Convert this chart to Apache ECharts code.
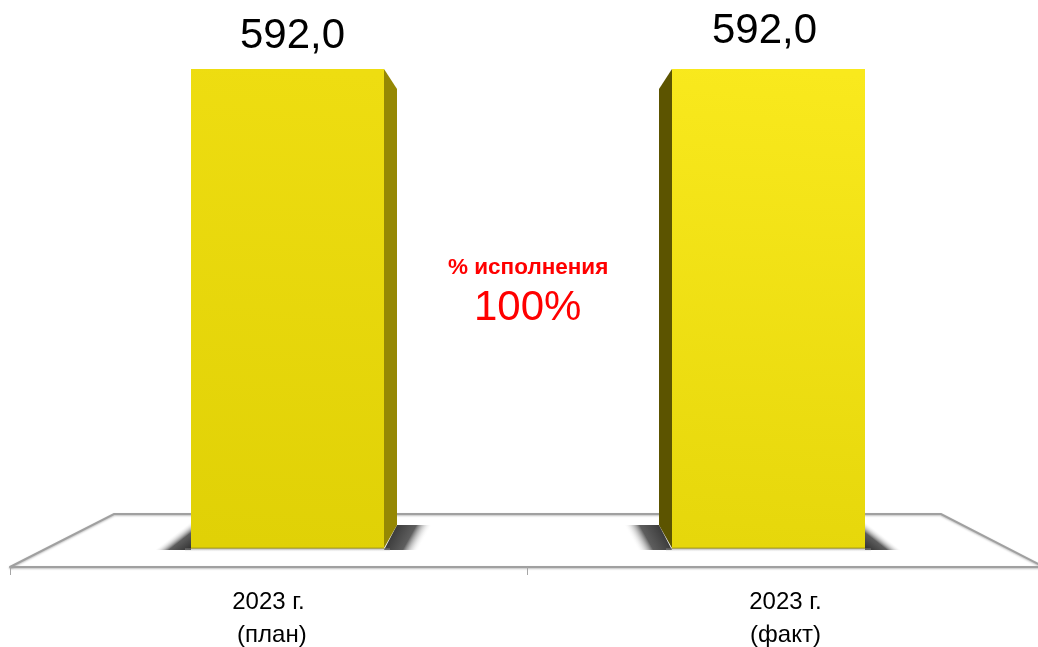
<!DOCTYPE html>
<html>
<head>
<meta charset="utf-8">
<style>
html, body { margin: 0; padding: 0; background: #fff; }
#chart { width: 1038px; height: 647px; }
</style>
<script src="https://cdn.jsdelivr.net/npm/echarts@6/dist/echarts.min.js"></script>
</head>
<body>
<div id="chart"></div>
<script>
var categories = ['2023 г.\n (план)', '2023 г.\n(факт)'];
var values = [592.0, 592.0];
var percentTitle = '% исполнения';
var percentValue = '100%';

var myChart = echarts.init(document.getElementById('chart'));

// bars sit off the category centres, side face on the inner edge
var barShift = [19, -17];
var barWidth = 193;
var sideWidth = 13;
var labelShift = [24, -21];
var labelLift = [14, 19];

function grad(x, y, x2, y2, stops, global) {
    return new echarts.graphic.LinearGradient(x, y, x2, y2, stops.map(function (s) {
        return { offset: s[0], color: s[1] };
    }), global);
}

function renderBar(params, api) {
    var i = params.dataIndex;
    var top = api.coord([i, api.value(1)]);
    var base = api.coord([i, 0]);
    var x0 = top[0] + barShift[i] - barWidth / 2;
    var x1 = x0 + barWidth;
    var yTop = top[1];
    var yBase = base[1];
    var right = i === 0;
    var edge = right ? x1 : x0;
    var sx = right ? x1 + sideWidth : x0 - sideWidth;
    var dir = right ? 1 : -1;

    // floor shadow behind the side face, fades along the slant of the foot
    var sy = yBase - 23;
    var shadowOut = {
        type: 'polygon',
        shape: { points: [[edge, yBase + 2], [sx, sy], [sx + dir * 36, sy], [sx + dir * 22, yBase + 2]] },
        style: {
            fill: grad(sx, sy, sx + dir * 27, sy + 15, [
                [0, 'rgba(60,60,60,1)'], [0.55, 'rgba(85,85,85,0.95)'], [1, 'rgba(255,255,255,0)']
            ], true)
        }
    };
    // soft wedge at the other foot corner
    var backEdge = right ? x0 : x1;
    var shadowIn = {
        type: 'polygon',
        shape: { points: [[backEdge, yBase + 2], [backEdge, yBase - 26], [backEdge - dir * 36, yBase + 2]] },
        style: {
            fill: grad(backEdge, yBase + 2, backEdge - dir * 14, yBase - 16, [
                [0, 'rgba(45,45,45,1)'], [0.6, 'rgba(75,75,75,0.9)'], [1, 'rgba(255,255,255,0)']
            ], true)
        }
    };
    var under = {
        type: 'rect',
        shape: { x: x0 - 6, y: yBase, width: barWidth + 12, height: 4 },
        style: { fill: grad(0, 0, 0, 1, [[0, 'rgba(90,90,90,0.7)'], [1, 'rgba(255,255,255,0)']]) }
    };
    var side = {
        type: 'polygon',
        shape: { points: [[edge, yTop], [sx, yTop + 20], [sx, yBase - 23], [edge, yBase]] },
        style: { fill: right ? '#958804' : '#5c5400' }
    };
    var front = {
        type: 'rect',
        shape: { x: x0, y: yTop, width: barWidth, height: yBase - yTop },
        style: {
            fill: right
                ? grad(0.6, 0, 0.4, 1, [[0, '#eedd11'], [1, '#e0d106']])
                : grad(0.6, 0, 0.4, 1, [[0, '#f9e91d'], [1, '#e6d70b']])
        }
    };
    var footLine = {
        type: 'line',
        shape: { x1: x0, y1: yBase, x2: x1, y2: yBase },
        style: { stroke: '#b0a410', lineWidth: 1 }
    };
    var label = {
        type: 'text',
        style: {
            x: top[0] + labelShift[i],
            y: yTop - labelLift[i] - 19,
            text: api.value(1).toFixed(1).replace('.', ','),
            fill: '#000',
            font: '42px "Liberation Sans", Arial, sans-serif',
            align: 'center',
            verticalAlign: 'middle'
        }
    };
    return { type: 'group', children: [shadowOut, shadowIn, under, side, front, footLine, label] };
}

var option = {
    animation: false,
    backgroundColor: '#fff',
    textStyle: { fontFamily: '"Liberation Sans", Arial, sans-serif' },
    grid: { left: 10, right: -6, top: 69, bottom: 99, outerBoundsMode: 'none' },
    xAxis: {
        type: 'category',
        data: categories,
        offset: 19,
        axisLine: {
            show: true,
            onZero: false,
            lineStyle: { color: '#a0a0a0', width: 2, shadowColor: 'rgba(0,0,0,0.25)', shadowBlur: 2, shadowOffsetY: 1 }
        },
        axisTick: { show: true, length: 8, lineStyle: { color: '#a6a6a6', width: 1 } },
        axisLabel: { color: '#000', fontSize: 24, lineHeight: 33, margin: 19 }
    },
    yAxis: {
        type: 'value',
        min: 0,
        max: 592,
        show: false
    },
    // floor of the 3d plot and the text in the middle
    graphic: [
        {
            type: 'polyline',
            z: 0,
            shape: { points: [[10, 567], [114, 514], [941, 514], [1044, 567]] },
            style: { stroke: '#a0a0a0', lineWidth: 2, fill: 'none', shadowColor: 'rgba(0,0,0,0.25)', shadowBlur: 2, shadowOffsetY: 1 }
        },
        {
            type: 'text',
            left: 448,
            top: 256,
            style: { text: percentTitle, fill: '#ff0000', font: 'bold 22.5px "Liberation Sans", Arial, sans-serif' }
        },
        {
            type: 'text',
            left: 474,
            top: 287,
            style: { text: percentValue, fill: '#ff0000', font: '42px "Liberation Sans", Arial, sans-serif' }
        }
    ],
    series: [
        {
            type: 'custom',
            renderItem: renderBar,
            encode: { x: 0, y: 1 },
            clip: false,
            z: 5,
            data: values.map(function (v, i) { return [i, v]; })
        }
    ]
};
myChart.setOption(option);
</script>
</body>
</html>
